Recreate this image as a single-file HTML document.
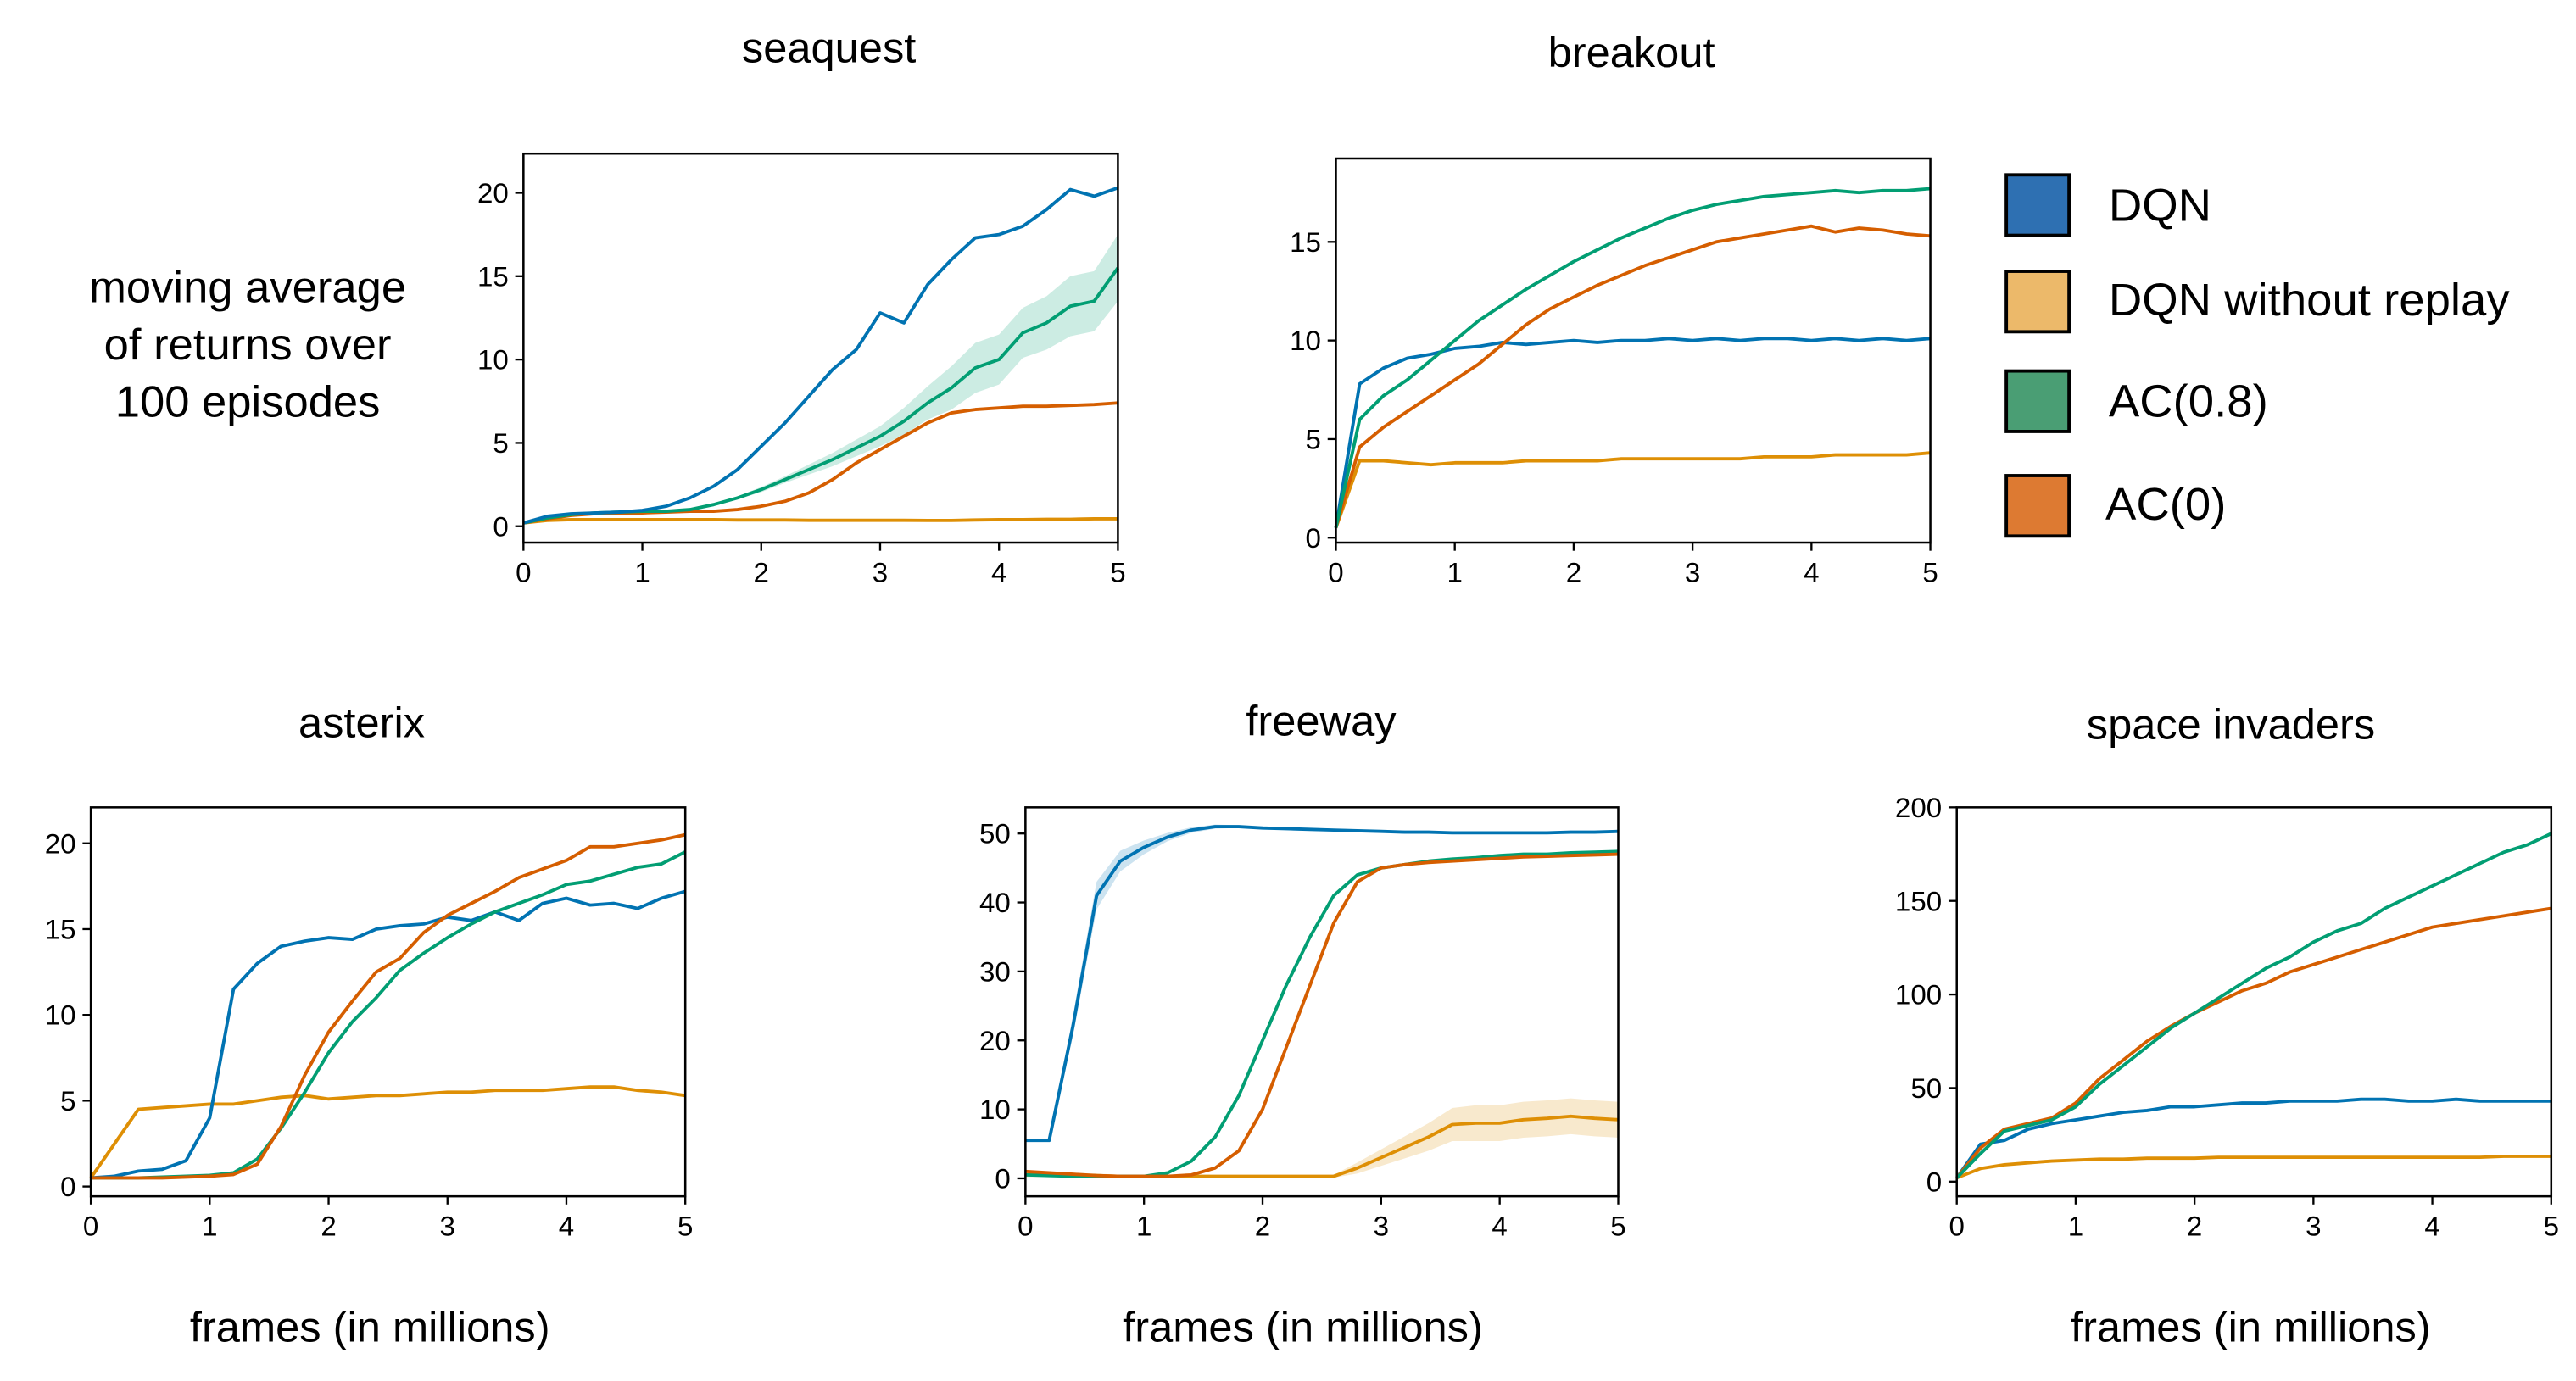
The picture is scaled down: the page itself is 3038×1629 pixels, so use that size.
<!DOCTYPE html>
<html><head><meta charset="utf-8">
<style>
html,body{margin:0;padding:0;background:#fff;}
svg{display:block;}
text{font-family:"Liberation Sans",Arial,sans-serif;fill:#000;}
</style></head>
<body>
<svg id="fig" width="3038" height="1629" viewBox="0 0 1560 845" preserveAspectRatio="none" xmlns="http://www.w3.org/2000/svg">
<g>
<text x="150" y="185" font-size="27" text-anchor="middle">moving average</text>
<text x="150" y="220" font-size="27" text-anchor="middle">of returns over</text>
<text x="150" y="255" font-size="27" text-anchor="middle">100 episodes</text>
</g>
<g>
<g><rect x="1215" y="107" width="38" height="37" fill="#2e70b2" stroke="#000" stroke-width="2"/><text x="1277" y="135" font-size="28">DQN</text></g>
<g><rect x="1215" y="166" width="38" height="37" fill="#ecb96a" stroke="#000" stroke-width="2"/><text x="1277" y="193" font-size="28">DQN without replay</text></g>
<g><rect x="1215" y="227" width="38" height="37" fill="#4a9e74" stroke="#000" stroke-width="2"/><text x="1277" y="255" font-size="28">AC(0.8)</text></g>
<g><rect x="1215" y="291" width="38" height="37" fill="#dd7a32" stroke="#000" stroke-width="2"/><text x="1275" y="318" font-size="28">AC(0)</text></g>
</g>
</svg>
<script>
const xs = [0,0.2,0.4,0.6,0.8,1.0,1.2,1.4,1.6,1.8,2.0,2.2,2.4,2.6,2.8,3.0,3.2,3.4,3.6,3.8,4.0,4.2,4.4,4.6,4.8,5.0];
const xTicks = [0,1,2,3,4,5];
const seriesNames = ["DQN","DQN without replay","AC(0.8)","AC(0)"];
const colors = ["#0173b2","#de8f05","#029e73","#d55e00"];

const seaquestDQN = [0.2,0.6,0.75,0.8,0.85,0.95,1.2,1.7,2.4,3.4,4.8,6.2,7.8,9.4,10.6,12.8,12.2,14.5,16.0,17.3,17.5,18.0,19.0,20.2,19.8,20.3];
const seaquestNoReplay = [0.2,0.35,0.4,0.4,0.4,0.4,0.4,0.4,0.4,0.38,0.38,0.38,0.36,0.36,0.36,0.36,0.36,0.35,0.35,0.38,0.4,0.4,0.42,0.42,0.45,0.45];
const seaquestAC08 = [0.2,0.5,0.7,0.8,0.85,0.9,0.9,1.0,1.3,1.7,2.2,2.8,3.4,4.0,4.7,5.4,6.3,7.4,8.3,9.5,10.0,11.6,12.2,13.2,13.5,15.5];
const seaquestAC0 = [0.2,0.45,0.65,0.75,0.8,0.8,0.85,0.9,0.9,1.0,1.2,1.5,2.0,2.8,3.8,4.6,5.4,6.2,6.8,7.0,7.1,7.2,7.2,7.25,7.3,7.4];
const seaquestAC08Band = [0.05,0.05,0.05,0.05,0.05,0.05,0.05,0.05,0.1,0.1,0.15,0.2,0.3,0.4,0.5,0.6,0.8,1.0,1.3,1.5,1.5,1.5,1.6,1.8,1.8,2.0];

const breakoutDQN = [0.5,7.8,8.6,9.1,9.3,9.6,9.7,9.9,9.8,9.9,10.0,9.9,10.0,10.0,10.1,10.0,10.1,10.0,10.1,10.1,10.0,10.1,10.0,10.1,10.0,10.1];
const breakoutNoReplay = [0.5,3.9,3.9,3.8,3.7,3.8,3.8,3.8,3.9,3.9,3.9,3.9,4.0,4.0,4.0,4.0,4.0,4.0,4.1,4.1,4.1,4.2,4.2,4.2,4.2,4.3];
const breakoutAC08 = [0.5,6.0,7.2,8.0,9.0,10.0,11.0,11.8,12.6,13.3,14.0,14.6,15.2,15.7,16.2,16.6,16.9,17.1,17.3,17.4,17.5,17.6,17.5,17.6,17.6,17.7];
const breakoutAC0 = [0.5,4.6,5.6,6.4,7.2,8.0,8.8,9.8,10.8,11.6,12.2,12.8,13.3,13.8,14.2,14.6,15.0,15.2,15.4,15.6,15.8,15.5,15.7,15.6,15.4,15.3];

const asterixDQN = [0.5,0.6,0.9,1.0,1.5,4.0,11.5,13.0,14.0,14.3,14.5,14.4,15.0,15.2,15.3,15.7,15.5,16.0,15.5,16.5,16.8,16.4,16.5,16.2,16.8,17.2];
const asterixNoReplay = [0.5,2.5,4.5,4.6,4.7,4.8,4.8,5.0,5.2,5.3,5.1,5.2,5.3,5.3,5.4,5.5,5.5,5.6,5.6,5.6,5.7,5.8,5.8,5.6,5.5,5.3];
const asterixAC08 = [0.5,0.5,0.5,0.55,0.6,0.65,0.8,1.6,3.4,5.5,7.8,9.6,11.0,12.6,13.6,14.5,15.3,16.0,16.5,17.0,17.6,17.8,18.2,18.6,18.8,19.5];
const asterixAC0 = [0.5,0.5,0.5,0.5,0.55,0.6,0.7,1.3,3.5,6.5,9.0,10.8,12.5,13.3,14.8,15.8,16.5,17.2,18.0,18.5,19.0,19.8,19.8,20.0,20.2,20.5];

const freewayDQN = [5.5,5.5,22,41,46,48,49.5,50.5,51,51,50.8,50.7,50.6,50.5,50.4,50.3,50.2,50.2,50.1,50.1,50.1,50.1,50.1,50.2,50.2,50.3];
const freewayNoReplay = [0.5,0.5,0.5,0.4,0.3,0.3,0.3,0.3,0.3,0.3,0.3,0.3,0.3,0.3,1.5,3,4.5,6,7.8,8,8,8.5,8.7,9,8.7,8.5];
const freewayAC08 = [0.5,0.4,0.3,0.3,0.3,0.3,0.8,2.5,6,12,20,28,35,41,44,45,45.5,46,46.3,46.5,46.8,47,47,47.2,47.3,47.4];
const freewayAC0 = [1.0,0.8,0.6,0.4,0.3,0.3,0.3,0.5,1.5,4,10,19,28,37,43,45,45.5,45.8,46,46.2,46.4,46.6,46.7,46.8,46.9,47];
const freewayNoReplayBand = [0.3,0.3,0.3,0.3,0.2,0.2,0.2,0.2,0.2,0.2,0.2,0.2,0.2,0.2,0.8,1.2,1.6,2.0,2.4,2.6,2.6,2.6,2.6,2.6,2.6,2.6];
const freewayDQNBand = [0,0,1.5,2,1.5,1,0.6,0.4,0.3,0.2,0.2,0.2,0.2,0.2,0.2,0.2,0.2,0.2,0.2,0.2,0.2,0.2,0.2,0.2,0.2,0.2];

const invadersDQN = [2,20,22,28,31,33,35,37,38,40,40,41,42,42,43,43,43,44,44,43,43,44,43,43,43,43];
const invadersNoReplay = [2,7,9,10,11,11.5,12,12,12.5,12.5,12.5,13,13,13,13,13,13,13,13,13,13,13,13,13.5,13.5,13.5];
const invadersAC08 = [2,15,27,30,33,40,52,62,72,82,90,98,106,114,120,128,134,138,146,152,158,164,170,176,180,186];
const invadersAC0 = [2,18,28,31,34,42,55,65,75,83,90,96,102,106,112,116,120,124,128,132,136,138,140,142,144,146];

const panels = [
 {name:"seaquest", box:[317,94,677,332], y0:322, yStep:(322-118)/20, ticks:[0,5,10,15,20], title:[502,38], xlabel:null,
  series:[seaquestNoReplay,seaquestAC0,seaquestAC08,seaquestDQN], cidx:[1,3,2,0], bands:[[2,seaquestAC08Band]]},
 {name:"breakout", box:[809,97,1169,332], y0:329, yStep:(329-148)/15, ticks:[0,5,10,15], title:[988,41], xlabel:null,
  series:[breakoutNoReplay,breakoutDQN,breakoutAC0,breakoutAC08], cidx:[1,0,3,2], bands:[]},
 {name:"asterix", box:[55,494,415,732], y0:726, yStep:(726-516)/20, ticks:[0,5,10,15,20], title:[219,451], xlabel:[224,821],
  series:[asterixNoReplay,asterixDQN,asterixAC08,asterixAC0], cidx:[1,0,2,3], bands:[]},
 {name:"freeway", box:[621,494,980,732], y0:721, yStep:(721-510)/50, ticks:[0,10,20,30,40,50], title:[800,450], xlabel:[789,821],
  series:[freewayNoReplay,freewayDQN,freewayAC08,freewayAC0], cidx:[1,0,2,3], bands:[[0,freewayNoReplayBand],[1,freewayDQNBand]]},
 {name:"space-invaders", box:[1185,494,1545,732], y0:723, yStep:(723-494)/200, ticks:[0,50,100,150,200], title:[1351,452], xlabel:[1363,821],
  series:[invadersNoReplay,invadersDQN,invadersAC0,invadersAC08], cidx:[1,0,3,2], bands:[]}
];
const titles = {"seaquest":"seaquest","breakout":"breakout","asterix":"asterix","freeway":"freeway","space-invaders":"space invaders"};
const NS = "http://www.w3.org/2000/svg";
const svg = document.getElementById("fig");
function mk(tag, attrs, parent){const e=document.createElementNS(NS,tag);for(const k in attrs)e.setAttribute(k,attrs[k]);parent.appendChild(e);return e;}

panels.forEach(p=>{
  const [L,T,R,B]=p.box;
  const sx = v => L + (R-L)*v/5;
  const sy = v => p.y0 - v*p.yStep;
  const g = mk("g",{},svg);
  
  
  const t = mk("text",{x:p.title[0],y:p.title[1],"font-size":26,"text-anchor":"middle"},g);
  t.textContent = titles[p.name];
  
  
  p.bands.forEach(([si,band])=>{
    const d=p.series[si], c=colors[p.cidx[si]];
    let pts=xs.map((x,i)=>sx(x)+","+sy(d[i]+band[i]));
    pts=pts.concat(xs.map((x,i)=>sx(x)+","+sy(d[i]-band[i])).reverse());
    const poly=mk("polygon",{points:pts.join(" "),fill:c,"fill-opacity":0.2,stroke:"none"},g);
    
    
  });
  p.series.forEach((d,si)=>{
    const c=colors[p.cidx[si]];
    const pl=mk("polyline",{points:xs.map((x,i)=>sx(x).toFixed(2)+","+sy(d[i]).toFixed(2)).join(" "),fill:"none",stroke:c,"stroke-width":2,"stroke-linejoin":"round"},g);
    
    
  });
  const frame=mk("rect",{x:L,y:T,width:R-L,height:B-T,fill:"none",stroke:"#000","stroke-width":1.3},g);
  
  
  xTicks.forEach(v=>{
    mk("line",{x1:sx(v),x2:sx(v),y1:B,y2:B+5,stroke:"#000","stroke-width":1.2},g);
    const tl=mk("text",{x:sx(v),y:B+24,"font-size":17,"text-anchor":"middle"},g);
    tl.textContent=v;
    
    
  });
  p.ticks.forEach(v=>{
    mk("line",{x1:L-5,x2:L,y1:sy(v),y2:sy(v),stroke:"#000","stroke-width":1.2},g);
    const tl=mk("text",{x:L-9,y:sy(v)+6,"font-size":17,"text-anchor":"end"},g);
    tl.textContent=v;
    
    
  });
  if(p.xlabel){
    const xl=mk("text",{x:p.xlabel[0],y:p.xlabel[1],"font-size":26,"text-anchor":"middle"},g);
    xl.textContent="frames (in millions)";
    
    
  }
});
</script>
</body></html>
